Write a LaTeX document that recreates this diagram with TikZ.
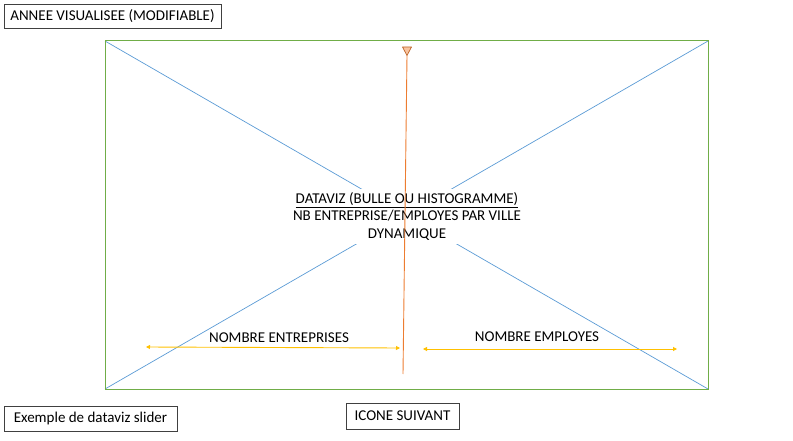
\documentclass[tikz,border=0pt]{standalone}
\usepackage{fontspec}
\setmainfont{Carlito}
\usetikzlibrary{arrows.meta}
\definecolor{frameg}{RGB}{112,173,71}
\definecolor{diagb}{RGB}{91,155,213}
\definecolor{orline}{RGB}{237,125,49}
\definecolor{orfill}{RGB}{248,196,160}
\definecolor{yel}{RGB}{255,192,0}
\tikzset{
  labelbox/.style={draw=black!75, line width=0.8pt, fill=white, inner sep=0pt, minimum height=24pt, font=\fontsize{15}{18}\selectfont},
  plain/.style={inner sep=0pt, font=\fontsize{15}{18}\selectfont},
  yarrow/.style={draw=yel, line width=0.9pt, {Triangle[length=4pt,width=4pt]}-{Triangle[length=4pt,width=4pt]}},
}
\begin{document}
\begin{tikzpicture}[x=1pt,y=-1pt]
\useasboundingbox (0,0) rectangle (793,441);
% frame
\coordinate (tl) at (105,41);
\coordinate (tr) at (708,41);
\coordinate (bl) at (105,389);
\coordinate (br) at (708,389);
\draw[diagb, line width=0.7pt] (tl) -- (br);
\draw[diagb, line width=0.7pt] (tr) -- (bl);
\draw[frameg, line width=1pt] (tl) rectangle (br);
% center text
\node[plain, fill=white, align=center, minimum width=232pt, minimum height=54pt, font=\fontsize{15}{17.5}\selectfont] (center) at (407,216.5)
  {\underline{DATAVIZ (BULLE OU HISTOGRAMME)}\\NB ENTREPRISE/EMPLOYES PAR VILLE\\DYNAMIQUE};
% orange slider
\coordinate (otip) at (407,55.5);
\coordinate (obot) at (403,374);
\draw[orline, line width=0.9pt] (otip) -- (obot);
\path[draw=orline!80!black, fill=orfill, line width=0.7pt, line join=round] (402.5,47) -- (411.5,47) -- (otip) -- cycle;
% yellow arrows
\coordinate (la) at (146,347);
\coordinate (lb) at (400,348);
\coordinate (ra) at (423,349);
\coordinate (rb) at (677,349);
\draw[yarrow] (la) -- (lb);
\draw[yarrow] (ra) -- (rb);
\node[plain] (lent) at (279,338) {NOMBRE ENTREPRISES};
\node[plain] (lemp) at (537,337) {NOMBRE EMPLOYES};
% boxes
\node[labelbox, minimum width=217pt] (annee) at (112.5,16) {ANNEE VISUALISEE (MODIFIABLE)};
\node[labelbox, minimum width=173pt, minimum height=25pt] (exemple) at (90.5,418.5) {Exemple de dataviz slider};
\node[labelbox, minimum width=113pt, minimum height=26pt] (icone) at (402.5,416) {ICONE SUIVANT};
\end{tikzpicture}
\end{document}
